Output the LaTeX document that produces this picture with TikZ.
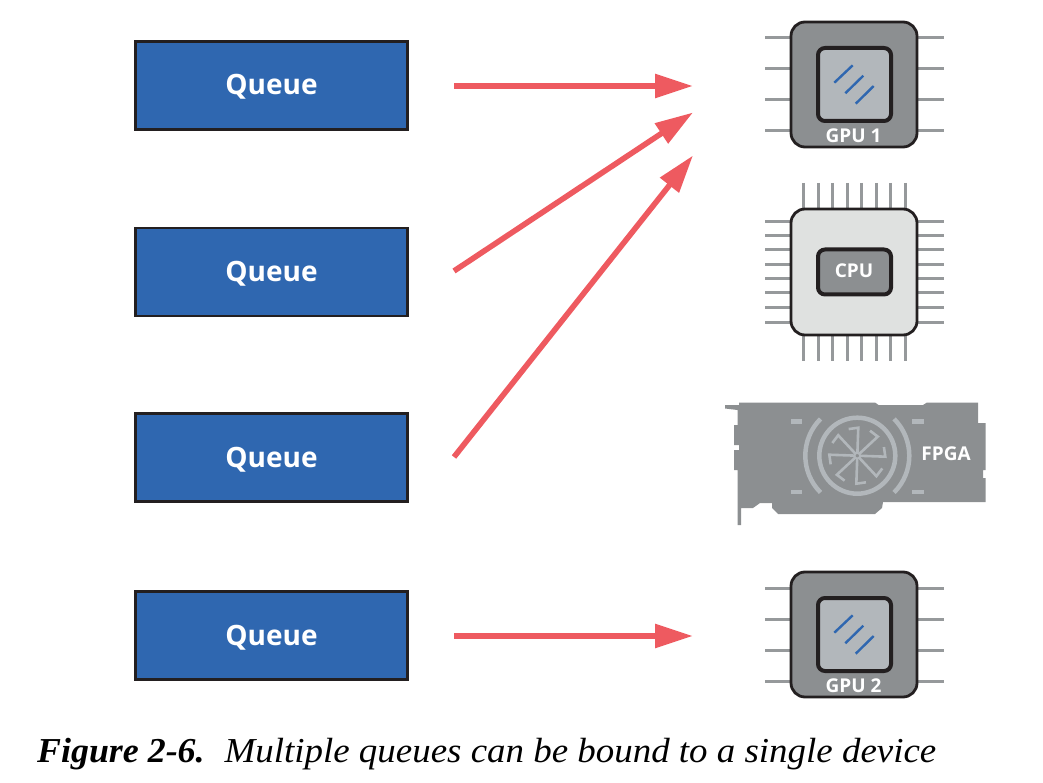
\documentclass[tikz,border=0pt]{standalone}
\usepackage{fontspec}
\setmainfont{Liberation Serif}
\newfontfamily\labelfont{Open Sans}
\newfontfamily\capfont{Liberation Serif}[ItalicFeatures={FakeStretch=1.055},BoldItalicFeatures={FakeStretch=1.025}]
\usetikzlibrary{arrows.meta,calc}
\definecolor{qblue}{HTML}{2F67B0}
\definecolor{qred}{HTML}{EE5A60}
\definecolor{chipgray}{HTML}{8C8F91}
\definecolor{pingray}{HTML}{96999B}
\definecolor{paleglass}{HTML}{B2B7BB}
\definecolor{palechip}{HTML}{DFE1E0}
\definecolor{edgeink}{HTML}{231F20}
\tikzset{
 queuebox/.style={draw=edgeink,line width=2.2pt,fill=qblue,minimum width=272pt,minimum height=88pt,inner sep=0pt,text=white,text height=19pt,text depth=0pt,font=\labelfont\bfseries\fontsize{28}{30}\selectfont},
 link/.style={draw=qred,line width=5.6pt,-{Triangle[length=38pt,width=23pt]}},
 pin/.style={draw=pingray,line width=3pt},
 chipbody/.style={draw=edgeink,line width=2.8pt,rounded corners=14pt,minimum width=126pt,inner sep=0pt},
 chipcore/.style={draw=edgeink,line width=4pt,rounded corners=7pt,minimum width=73pt,inner sep=0pt},
 chiplabel/.style={text=white,inner sep=0pt,font=\labelfont\bfseries\fontsize{19}{21}\selectfont},
 slash/.style={draw=qblue,line width=2.4pt},
 fanline/.style={draw=paleglass,line width=2.6pt},
 fanring/.style={draw=paleglass,line width=4.5pt},
 fanmark/.style={fill=paleglass,draw=none},
}
\newcommand{\gpupins}{%
 \foreach \py in {17,48,79,110}{
  \draw[pin] (-25,\py) -- (0,\py);
  \draw[pin] (128,\py) -- (154,\py);
 }}
\begin{document}
\begin{tikzpicture}[x=1pt,y=-1pt]
\useasboundingbox (0,0) rectangle (1043,783);
% queues
\node[queuebox] (q1) at (271.5,85.5) {Queue};
\node[queuebox] (q2) at (271.5,272) {Queue};
\node[queuebox] (q3) at (271.5,457.5) {Queue};
\node[queuebox] (q4) at (271.5,635.5) {Queue};
% GPU 1
\begin{scope}[shift={(790,21)}]
 \gpupins
 \node[chipbody,fill=chipgray,minimum height=125pt] (gpua) at (64,63.5) {};
 \node[chipcore,fill=paleglass,minimum height=73pt] (gpuacore) at (64.5,63.5) {};
 \draw[slash] (44.3,61.7) -- (62.7,44.3);
 \draw[slash] (55.3,72.3) -- (73.3,54.7);
 \draw[slash] (65.7,82.7) -- (83.7,65);
 \node[chiplabel] (gpualabel) at (63.5,115) {GPU 1};
\end{scope}
% GPU 2
\begin{scope}[shift={(790,571)}]
 \gpupins
 \node[chipbody,fill=chipgray,minimum height=125pt] (gpub) at (64,63.5) {};
 \node[chipcore,fill=paleglass,minimum height=73pt] (gpubcore) at (64.5,63.5) {};
 \draw[slash] (44.3,61.7) -- (62.7,44.3);
 \draw[slash] (55.3,72.3) -- (73.3,54.7);
 \draw[slash] (65.7,82.7) -- (83.7,65);
 \node[chiplabel] (gpublabel) at (63.5,115) {GPU 2};
\end{scope}
% CPU
\foreach \px in {803,818,832,847,861,876,890,905}{
 \draw[pin] (\px,183) -- (\px,208);
 \draw[pin] (\px,336) -- (\px,361);
}
\foreach \py in {222,236,250,265,279,293,308,322}{
 \draw[pin] (765,\py) -- (790,\py);
 \draw[pin] (918,\py) -- (944,\py);
}
\node[chipbody,fill=palechip,minimum height=126pt] (cpu) at (854,272) {};
\node[chipcore,fill=chipgray,minimum height=45pt] (cpucore) at (854.5,272) {};
\node[chiplabel] (cpulabel) at (854,271) {CPU};
% FPGA card
\fill[chipgray] (725,405) -- (739,405) -- (739,402.5) -- (875,402.5) -- (878.5,405) -- (923,405) -- (927,402.5) -- (978,402.5)
 -- (978,423) -- (985.5,423) -- (985.5,470) -- (983,470) -- (983,478) -- (985.5,478) -- (985.5,502) -- (883,502) -- (882,508) -- (875,514) -- (778,514) -- (772,508) -- (772,503)
 -- (760,503) -- (753,508) -- (741,508) -- (741,525) -- (737.5,525) -- (737.5,470) -- (734,470) -- (734,450) -- (739,450)
 -- (739,445) -- (734,445) -- (734,425) -- (737.5,425) -- (737.5,410) -- (725,408.5) -- cycle;
\coordinate (fan) at (857.3,455.7);
\draw[fanring] (fan) circle[radius=38];
\draw[fanring] (fan) ++(135:52) arc[start angle=135,end angle=225,radius=52];
\draw[fanring] (fan) ++(-45:52) arc[start angle=-45,end angle=45,radius=52];
\fill[fanmark] (790.5,419) rectangle (801.5,423.5);
\fill[fanmark] (912,419) rectangle (923.5,423.5);
\fill[fanmark] (790.5,489.5) rectangle (801.5,494);
\fill[fanmark] (912,489.5) rectangle (923.5,494);
\foreach \a in {2,47,...,317}{
 \draw[fanline,line join=miter] (fan) -- ($(fan)+(\a:28)$) -- ($(fan)+(\a-20:28)$);
}
\fill[chipgray,draw=paleglass,line width=1.8pt] (fan) circle[radius=2.8];
\node[chiplabel] (fpgalabel) at (946,454) {FPGA};
% connectors
\coordinate (s1) at (454,86);
\coordinate (s2) at (454,271);
\coordinate (s3) at (454,457);
\coordinate (s4) at (454,636);
\coordinate (e1) at (693,86);
\coordinate (e2) at (693,112.5);
\coordinate (e3) at (693,155.5);
\coordinate (e4) at (693,636);
\draw[link] (s1) -- (e1);
\draw[link] (s2) -- (e2);
\draw[link] (s3) -- (e3);
\draw[link] (s4) -- (e4);
% caption
\node[anchor=base west,inner sep=0pt,font=\capfont\fontsize{35}{38}\selectfont] (caption) at (37,762) {\textbf{\textit{Figure 2-6.}}\hspace{20pt}\textit{Multiple queues can be bound to a single device}};
\end{tikzpicture}
\end{document}
